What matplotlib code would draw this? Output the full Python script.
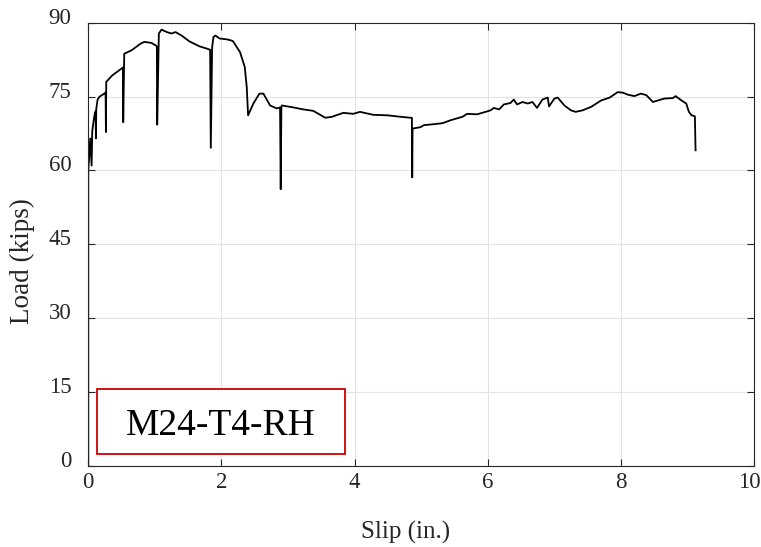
import numpy as np
import matplotlib.pyplot as plt
from matplotlib.patches import Rectangle
from matplotlib.transforms import ScaledTranslation

# Courbe charge-glissement
slip = [0.0, 0.0, 0.01, 0.03, 0.05, 0.06, 0.09, 0.11, 0.115, 0.12, 0.14, 0.17, 0.24,
        0.26, 0.265, 0.27, 0.36, 0.50, 0.52, 0.525, 0.54, 0.65, 0.78, 0.84, 0.95, 1.01,
        1.03, 1.035, 1.06, 1.10, 1.18, 1.25, 1.31, 1.40, 1.52, 1.67, 1.79,
        1.83, 1.84, 1.86, 1.88, 1.91, 1.97, 2.09, 2.17, 2.28, 2.35, 2.38, 2.40,
        2.48, 2.57, 2.63, 2.73, 2.83, 2.88, 2.89, 2.90, 2.91, 3.08, 3.23, 3.38,
        3.56, 3.66, 3.83, 3.98, 4.08, 4.28, 4.49, 4.69, 4.84, 4.86, 4.865, 4.87,
        4.99, 5.04, 5.19, 5.32, 5.44, 5.62, 5.69, 5.84, 6.04, 6.09, 6.17, 6.24,
        6.34, 6.39, 6.44, 6.52, 6.60, 6.67, 6.74, 6.82, 6.90, 6.92, 7.00, 7.05,
        7.15, 7.25, 7.32, 7.42, 7.55, 7.70, 7.83, 7.95, 8.03, 8.10, 8.20, 8.30,
        8.38, 8.48, 8.55, 8.65, 8.78, 8.82, 8.91, 8.98, 9.02, 9.06, 9.11, 9.12]
load = [0.0, 60.0, 62.0, 66.5, 61.0, 68.0, 71.0, 72.0, 66.5, 72.5, 74.4, 75.0, 75.6,
        75.8, 67.8, 78.0, 79.3, 80.7, 80.9, 69.8, 83.7, 84.4, 85.7, 86.1, 85.9, 85.4,
        85.2, 69.3, 87.8, 88.6, 88.1, 87.8, 88.1, 87.4, 86.2, 85.2, 84.7,
        84.5, 64.6, 85.0, 87.1, 87.4, 86.8, 86.6, 86.3, 84.0, 81.0, 76.9, 71.2,
        73.6, 75.6, 75.6, 73.2, 72.6, 72.8, 56.2, 73.0, 73.2, 72.8, 72.4, 72.1,
        70.7, 70.9, 71.7, 71.5, 71.9, 71.3, 71.2, 70.9, 70.7, 70.7, 58.6, 68.5,
        68.8, 69.2, 69.4, 69.6, 70.2, 70.9, 71.5, 71.4, 72.2, 72.7, 72.4, 73.4,
        73.7, 74.4, 73.4, 73.9, 73.6, 73.9, 72.7, 74.4, 74.8, 73.0, 74.6, 74.8,
        73.2, 72.2, 71.9, 72.2, 72.9, 74.2, 74.8, 75.9, 75.8, 75.4, 75.1, 75.6,
        75.3, 73.9, 74.2, 74.6, 74.7, 75.1, 74.2, 73.6, 71.9, 71.2, 71.0, 64.1]

x_ticks = [0, 2, 4, 6, 8, 10]
y_ticks = [0, 15, 30, 45, 60, 75, 90]
label = 'M24-T4-RH'

plt.rcParams['font.family'] = ['Liberation Serif', 'DejaVu Serif']

fig = plt.figure(figsize=(7.61, 5.47), dpi=100)
ax = fig.add_axes([0.116, 0.148, 0.875, 0.8105])

ax.plot(slip, load, color='black', linewidth=1.3)

ax.set_xlim(0, 10)
ax.set_ylim(0, 90)
ax.set_xticks(x_ticks)
ax.set_yticks(y_ticks)
ax.grid(True, color='#e3e3e3', linewidth=0.8)
ax.set_axisbelow(True)
ax.tick_params(direction='in', top=True, right=True, length=5, width=0.8,
               labelsize=16.5, colors='#262626')
ax.tick_params(axis='x', pad=4)
ax.tick_params(axis='y', pad=12)
for s in ax.spines.values():
    s.set_linewidth(0.8)
    s.set_color('#262626')

# décalage des étiquettes y vers le haut (style MATLAB)
decal = ScaledTranslation(0, 7 / 100, fig.dpi_scale_trans)
for t in ax.get_yticklabels():
    t.set_transform(t.get_transform() + decal)
# le "10" reste dans l'image
dernier = ax.get_xticklabels()[-1]
dernier.set_transform(dernier.get_transform() +
                      ScaledTranslation(-5 / 100, 0, fig.dpi_scale_trans))

ax.set_xlabel('Slip (in.)', fontsize=18, color='#262626')
ax.set_ylabel('Load (kips)', fontsize=19.5, color='#262626')
ax.xaxis.set_label_coords(0.476, -0.124)
ax.yaxis.set_label_coords(-0.080, 0.462)

# Etiquette de l'essai
ax.add_patch(Rectangle((0.13, 2.44), 3.73, 13.16, facecolor='white',
                       edgecolor='#cc0000', linewidth=1.3, zorder=3))
ax.text(1.99, 6.3, label, fontsize=27, ha='center', va='baseline', zorder=4)

fig.savefig('out.png', dpi=100)
